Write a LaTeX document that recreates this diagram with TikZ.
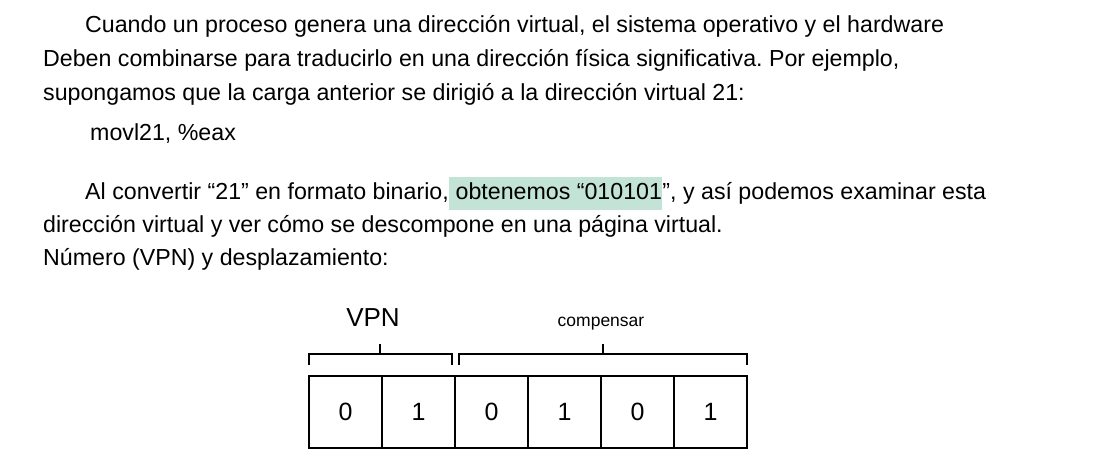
\documentclass[tikz,border=0pt]{standalone}
\usepackage{fontspec}
\setmainfont{Liberation Sans}
\definecolor{hl}{HTML}{C2E3D6}
\frenchspacing
\begin{document}
\begin{tikzpicture}[x=1pt,y=-1pt,
  body/.style={anchor=base west,inner sep=0pt,font=\fontsize{23.2}{27}\selectfont},
  cell/.style={draw,line width=1.3pt,minimum width=73pt,minimum height=72pt,inner sep=0pt,font=\fontsize{25}{29}\selectfont},
  brace/.style={line width=1.2pt}]
\useasboundingbox (0,0) rectangle (1117,466);
\node[body] (l1) at (85,32) {Cuando un proceso genera una dirección virtual, el sistema operativo y el hardware};
\node[body] (l2) at (43,66) {Deben combinarse para traducirlo en una dirección física significativa. Por ejemplo,};
\node[body] (l3) at (43,100) {supongamos que la carga anterior se dirigió a la dirección virtual 21:};
\node[body] (l4) at (90,140) {movl21, \%eax};
\node[body] (p2a) at (85,199) {Al convertir “21” en formato binario,};
\node[body,fill=hl,text height=22pt,text depth=11pt] (p2b) at (p2a.base east) {\ obtenemos “010101};
\node[body] (p2c) at (p2b.base east) {”, y así podemos examinar esta};
\node[body] (l6) at (43,232) {dirección virtual y ver cómo se descompone en una página virtual.};
\node[body] (l7) at (43,265) {Número (VPN) y desplazamiento:};
% cells
\foreach \d [count=\i] in {0,1,0,1,0,1}{
  \node[cell] (c\i) at ({309+73*(\i-0.5)},412) {\d};
}
% brackets
\draw[brace] (309,365) -- (309,354) -- (452,354) -- (452,365);
\draw[brace] (380,354) -- (380,344);
\draw[brace] (459,365) -- (459,354) -- (747,354) -- (747,365);
\draw[brace] (603,354) -- (603,344);
\node[anchor=base,inner sep=0pt,font=\fontsize{26}{30}\selectfont] (vpn) at (373,326) {VPN};
\node[anchor=base,inner sep=0pt,font=\fontsize{17.5}{20}\selectfont] (off) at (601,326) {compensar};
\end{tikzpicture}
\end{document}
